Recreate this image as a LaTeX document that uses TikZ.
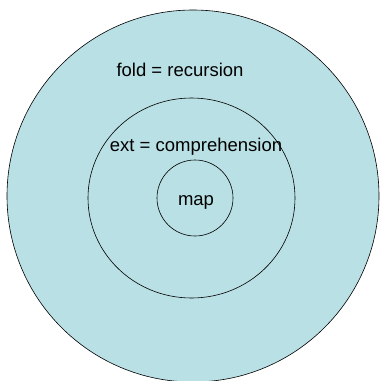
\documentclass[tikz,border=0pt]{standalone}
\usepackage{fontspec}
\setmainfont{Liberation Sans}
\usetikzlibrary{shapes.geometric}
\definecolor{setfill}{RGB}{185,224,228}
\begin{document}
\begin{tikzpicture}[x=1pt, y=-1pt, font=\fontsize{18.5}{22}\selectfont,
    ring/.style={draw, ellipse, inner sep=0pt, line width=0.6pt}]
  \useasboundingbox (0,0) rectangle (380,381);
  \node[ring, fill=setfill, minimum width=372pt, minimum height=372pt] (fold) at (193,196) {};
  \node[ring, minimum width=207pt, minimum height=200pt] (ext) at (191.5,198) {};
  \node[ring, minimum width=76pt, minimum height=76pt] (map) at (195,198) {};
  \node (foldlbl) at (180,70) {fold = recursion};
  \node (extlbl) at (196,147) {ext = comprehension};
  \node (maplbl) at (196,202) {map};
\end{tikzpicture}
\end{document}
